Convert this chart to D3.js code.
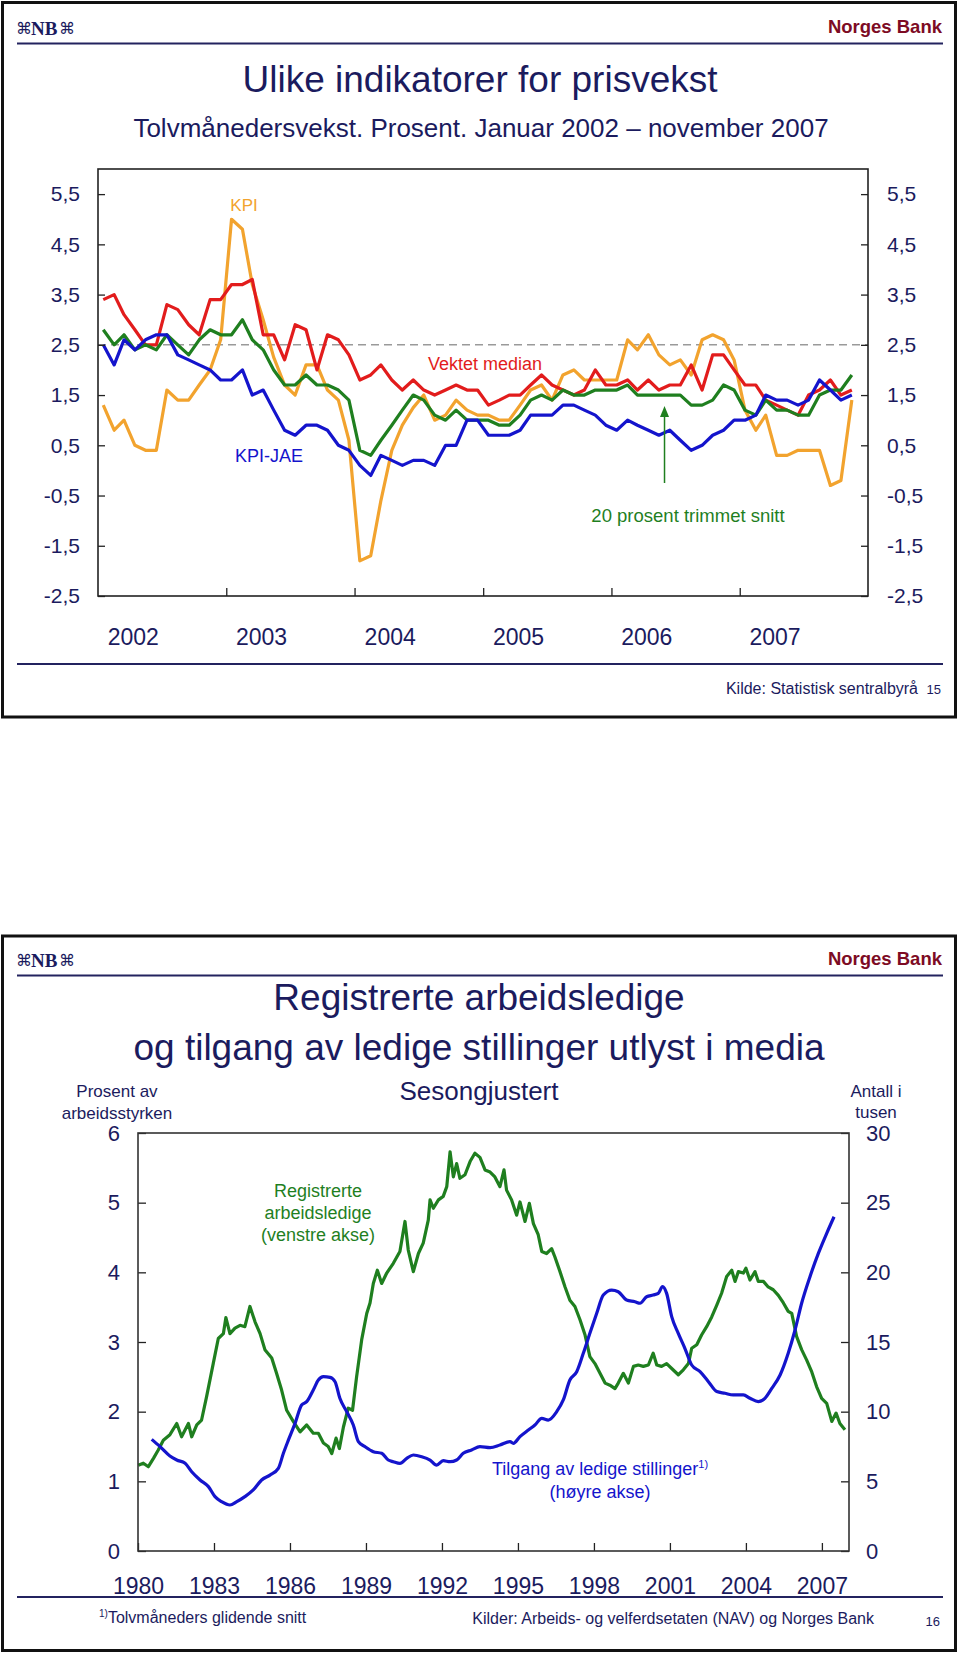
<!DOCTYPE html>
<html><head><meta charset="utf-8">
<script src="https://cdn.jsdelivr.net/npm/d3@7"></script>
<style>
body{margin:0;background:#fff}
svg{display:block}
text{font-family:"Liberation Sans",Arial,Helvetica,sans-serif}
</style>
</head><body>
<svg id="c" width="960" height="1654"></svg>
<script>
// ---------- Panel 1 data (monthly, Jan 2002 - Nov 2007) ----------
const months = d3.timeMonth.range(new Date(2002,0,1), new Date(2007,11,1));
const kpi = [1.3,0.8,1.0,0.5,0.4,0.4, 1.6,1.4,1.4,1.7,2.0,2.6, 5.0,4.8,3.7,3.0,2.25,1.7,
  1.5,2.1,2.1,1.6,1.4,0.6, -1.8,-1.7,-0.6,0.4,0.9,1.25, 1.5,1.0,1.1,1.4,1.2,1.1,
  1.1,1.0,1.0,1.3,1.6,1.7, 1.4,1.9,2.0,1.8,1.8,1.8, 1.8,2.6,2.4,2.7,2.3,2.1,
  2.2,1.9,2.6,2.7,2.6,2.2, 1.2,0.8,1.1,0.3,0.3,0.4, 0.4,0.4,-0.3,-0.2,1.4];
const vektetMedian = [3.4,3.5,3.1,2.8,2.5,2.5, 3.3,3.2,2.9,2.7,3.4,3.4, 3.7,3.7,3.8,2.7,2.7,2.2,
  2.9,2.8,2.0,2.7,2.6,2.3, 1.8,1.9,2.1,1.8,1.6,1.8, 1.6,1.5,1.6,1.7,1.6,1.6,
  1.3,1.4,1.5,1.5,1.7,1.9, 1.7,1.6,1.5,1.6,2.0,1.7, 1.7,1.8,1.6,1.8,1.6,1.7,
  1.7,2.1,1.6,2.3,2.3,2.0, 1.7,1.7,1.4,1.3,1.2,1.1, 1.5,1.6,1.8,1.5,1.6];
const trimmetSnitt = [2.8,2.5,2.7,2.4,2.5,2.4, 2.7,2.5,2.3,2.6,2.8,2.7, 2.7,3.0,2.6,2.4,2.0,1.7,
  1.7,1.9,1.7,1.7,1.6,1.4, 0.4,0.3,0.6,0.9,1.2,1.5, 1.4,1.1,1.0,1.2,1.0,1.0,
  1.0,0.9,0.9,1.1,1.4,1.5, 1.4,1.6,1.5,1.5,1.6,1.6, 1.6,1.7,1.5,1.5,1.5,1.5,
  1.5,1.3,1.3,1.4,1.7,1.6, 1.2,1.1,1.4,1.2,1.2,1.1, 1.1,1.5,1.6,1.6,1.9];
const kpiJae = [2.5,2.1,2.6,2.4,2.6,2.7, 2.7,2.3,2.2,2.1,2.0,1.8, 1.8,2.0,1.5,1.6,1.2,0.8,
  0.7,0.9,0.9,0.8,0.5,0.4, 0.1,-0.1,0.3,0.2,0.1,0.2, 0.2,0.1,0.5,0.5,1.0,1.0,
  0.7,0.7,0.7,0.8,1.1,1.1, 1.1,1.3,1.3,1.2,1.1,0.9, 0.8,1.0,0.9,0.8,0.7,0.8,
  0.6,0.4,0.5,0.7,0.8,1.0, 1.0,1.1,1.5,1.4,1.4,1.3, 1.4,1.8,1.6,1.4,1.5];
const p1YTicks = [-2.5,-1.5,-0.5,0.5,1.5,2.5,3.5,4.5,5.5];
const p1Years = [2002,2003,2004,2005,2006,2007];
const inflationTarget = 2.5;

// ---------- Panel 2 data ----------
const unempYears = [1980.01,1980.21,1980.41,1980.61,1980.80,1981.00,1981.26,1981.53,1981.72,1981.99,
 1982.12,1982.32,1982.51,1982.71,1982.97,1983.17,1983.37,1983.47,1983.63,1983.83,1984.03,1984.22,
 1984.42,1984.62,1984.82,1985.01,1985.28,1985.47,1985.67,1985.87,1986.13,1986.40,1986.66,1986.92,
 1987.12,1987.32,1987.51,1987.65,1987.82,1987.95,1988.11,1988.30,1988.47,1988.63,1988.83,1989.03,
 1989.16,1989.29,1989.45,1989.62,1989.82,1990.08,1990.34,1990.54,1990.67,1990.87,1991.07,1991.26,
 1991.46,1991.53,1991.66,1991.86,1992.05,1992.19,1992.32,1992.45,1992.58,1992.71,1992.91,1993.11,
 1993.30,1993.50,1993.70,1993.90,1994.09,1994.29,1994.45,1994.55,1994.75,1994.95,1995.08,1995.28,
 1995.45,1995.61,1995.80,1995.94,1996.13,1996.33,1996.46,1996.66,1996.86,1997.05,1997.25,1997.45,
 1997.65,1997.84,1998.04,1998.24,1998.44,1998.63,1998.83,1998.96,1999.16,1999.36,1999.56,1999.75,
 1999.95,2000.15,2000.34,2000.48,2000.67,2000.87,2001.07,2001.33,2001.53,2001.73,2001.86,2002.06,
 2002.25,2002.45,2002.65,2002.85,2003.04,2003.24,2003.44,2003.57,2003.70,2003.90,2004.00,2004.16,
 2004.36,2004.49,2004.69,2004.88,2005.08,2005.28,2005.48,2005.67,2005.81,2006.00,2006.20,2006.40,
 2006.60,2006.79,2006.99,2007.19,2007.39,2007.56,2007.71,2007.91];
const unempRate = [1.23,1.26,1.21,1.33,1.45,1.59,1.67,1.83,1.64,1.83,
 1.64,1.81,1.88,2.22,2.69,3.05,3.12,3.35,3.12,3.20,3.24,3.22,
 3.51,3.29,3.12,2.89,2.77,2.55,2.31,2.02,1.86,1.71,1.81,1.69,
 1.69,1.55,1.50,1.40,1.62,1.47,1.78,2.05,2.02,2.50,3.03,3.41,
 3.56,3.84,4.03,3.84,3.99,4.13,4.30,4.73,4.32,4.01,4.27,4.42,
 4.75,5.04,4.92,5.04,5.09,5.23,5.73,5.37,5.56,5.35,5.40,5.59,
 5.71,5.65,5.47,5.44,5.37,5.23,5.47,5.18,5.04,4.82,5.01,4.73,
 4.99,4.70,4.54,4.30,4.27,4.34,4.22,4.01,3.79,3.60,3.51,3.32,
 3.10,2.79,2.69,2.55,2.41,2.38,2.33,2.41,2.55,2.41,2.65,2.67,
 2.65,2.67,2.84,2.67,2.65,2.69,2.62,2.53,2.60,2.69,2.91,2.96,
 3.10,3.22,3.36,3.53,3.70,3.94,4.03,3.87,4.01,3.99,4.06,3.89,
 4.01,3.87,3.87,3.79,3.75,3.67,3.56,3.44,3.41,3.08,2.89,2.74,
 2.57,2.36,2.19,2.12,1.86,1.98,1.83,1.74];
const vacYears = [1980.54,1980.87,1981.26,1981.53,1981.86,1982.12,1982.45,1982.78,1983.04,1983.30,
 1983.63,1983.90,1984.22,1984.55,1984.88,1985.21,1985.54,1985.74,1985.94,1986.20,1986.46,1986.66,
 1986.92,1987.12,1987.32,1987.58,1987.78,1987.97,1988.24,1988.50,1988.70,1988.96,1989.29,1989.62,
 1989.88,1990.08,1990.34,1990.61,1990.87,1991.20,1991.53,1991.79,1992.05,1992.32,1992.58,1992.84,
 1993.17,1993.50,1993.90,1994.29,1994.69,1994.82,1995.08,1995.41,1995.67,1995.94,1996.20,1996.53,
 1996.79,1997.05,1997.32,1997.58,1997.84,1998.11,1998.37,1998.70,1998.96,1999.29,1999.62,1999.82,
 2000.08,2000.34,2000.54,2000.71,2000.87,2001.07,2001.33,2001.59,2001.86,2002.19,2002.52,2002.85,
 2003.17,2003.50,2003.90,2004.16,2004.49,2004.75,2005.02,2005.35,2005.67,2005.94,2006.20,2006.53,
 2006.86,2007.19,2007.48];
const vacCount = [8.01,7.49,6.82,6.53,6.29,5.69,5.10,4.62,3.90,3.54,
 3.30,3.54,3.90,4.38,5.10,5.45,5.93,7.01,7.97,9.16,10.48,10.72,
 11.56,12.27,12.51,12.46,12.15,10.96,10.00,9.04,7.85,7.49,7.13,7.01,
 6.53,6.41,6.29,6.65,6.89,6.77,6.53,6.17,6.48,6.41,6.53,7.01,
 7.25,7.49,7.42,7.61,7.85,7.73,8.21,8.68,9.04,9.52,9.40,10.00,
 10.84,12.27,12.87,14.19,15.62,17.06,18.37,18.73,18.61,18.01,17.89,17.78,
 18.25,18.37,18.49,18.97,18.49,16.82,15.62,14.55,13.35,12.87,12.15,11.44,
 11.32,11.20,11.20,10.96,10.72,10.96,11.67,12.63,14.19,15.86,17.78,19.69,
 21.36,22.80,23.99];
const p2LeftTicks = [0,1,2,3,4,5,6];
const p2RightTicks = [0,5,10,15,20,25,30];
const p2Years = [1980,1983,1986,1989,1992,1995,1998,2001,2004,2007];

// ---------- styles ----------
const NAVY = "#1b1b5e", RED_BRAND = "#7d0b24";
const C_KPI = "#f2a32e", C_MED = "#e21c1c", C_TRIM = "#1f7f1f", C_JAE = "#1414cc";
const C_UNEMP = "#1f7f1f", C_VAC = "#1414cc";

const svg = d3.select("#c");

function frame(top, bottom){
  svg.append("rect").attr("x",2.5).attr("y",top).attr("width",953).attr("height",bottom-top)
    .attr("fill","#fff").attr("stroke","#111").attr("stroke-width",3);
}
function header(off){
  const g = svg.append("g").attr("transform",`translate(0,${off})`);
  g.append("text").attr("x",16).attr("y",34).attr("fill",NAVY)
    .style("font-family","DejaVu Sans").style("font-size","16px").text("⌘");
  g.append("text").attr("x",31).attr("y",35).attr("fill",NAVY)
    .style("font-family","Liberation Serif").style("font-weight","bold").style("font-size","19px").text("NB");
  g.append("text").attr("x",59).attr("y",34).attr("fill",NAVY)
    .style("font-family","DejaVu Sans").style("font-size","16px").text("⌘");
  g.append("text").attr("x",942).attr("y",33).attr("text-anchor","end").attr("fill",RED_BRAND)
    .style("font-weight","bold").style("font-size","18.5px").text("Norges Bank");
  g.append("line").attr("x1",17).attr("x2",943).attr("y1",43.5).attr("y2",43.5)
    .attr("stroke","#23235f").attr("stroke-width",2);
}
function txt(x,y,s,size,color,anchor){
  return svg.append("text").attr("x",x).attr("y",y).attr("text-anchor",anchor||"middle")
    .attr("fill",color||NAVY).style("font-size",size+"px").text(s);
}
const comma = d => d3.format(".1f")(d).replace(".",",").replace("\u2212","-");

// ================= PANEL 1 =================
frame(2.5, 717);
header(0);
txt(480,92,"Ulike indikatorer for prisvekst",37);
txt(481,137,"Tolvmånedersvekst. Prosent. Januar 2002 – november 2007",26);

const L1=98, R1=868, T1=169, B1=596;
const x1 = d3.scaleTime().domain([new Date(2002,0,1), new Date(2008,0,1)]).range([L1,R1]);
const y1 = d3.scaleLinear().domain([-2.5,6.0]).range([B1,T1]);
const mid = d => new Date(d.getFullYear(), d.getMonth(), 16);

const p1 = svg.append("g");
p1.append("line").attr("x1",L1).attr("x2",R1).attr("y1",y1(inflationTarget)).attr("y2",y1(inflationTarget))
  .attr("stroke","#9a9a9a").attr("stroke-width",1.5).attr("stroke-dasharray","8,5");

const line1 = vals => d3.line().x((d,i)=>x1(mid(months[i]))).y(d=>y1(d))(vals);
[[kpi,C_KPI],[vektetMedian,C_MED],[trimmetSnitt,C_TRIM],[kpiJae,C_JAE]].forEach(([v,c])=>{
  p1.append("path").attr("d",line1(v)).attr("fill","none").attr("stroke",c)
    .attr("stroke-width",3.2).attr("stroke-linejoin","round");
});

const axL1 = d3.axisLeft(y1).tickValues(p1YTicks).tickFormat(comma).tickSize(-7).tickSizeOuter(0).tickPadding(18);
const axR1 = d3.axisRight(y1).tickValues(p1YTicks).tickFormat(comma).tickSize(-7).tickSizeOuter(0).tickPadding(19);
const axB1 = d3.axisBottom(x1).tickValues(p1Years.slice(1).map(y=>new Date(y,0,1))).tickFormat("").tickSize(-8).tickSizeOuter(0);
const axB1lab = d3.axisBottom(x1).tickValues(p1Years.map(y=>new Date(y,3,10))).tickFormat(d3.timeFormat("%Y")).tickSize(0).tickPadding(33);
function styleAxis(g,size){
  g.select(".domain").remove();
  g.selectAll(".tick line").attr("stroke","#222").attr("stroke-width",1.3);
  g.selectAll("text").attr("fill",NAVY).style("font-size",size+"px").style("font-family","Liberation Sans, Arial, sans-serif");
}
styleAxis(svg.append("g").attr("transform",`translate(${L1},0)`).call(axL1),21);
styleAxis(svg.append("g").attr("transform",`translate(${R1},0)`).call(axR1),21);
styleAxis(svg.append("g").attr("transform",`translate(0,${B1})`).call(axB1),23);
styleAxis(svg.append("g").attr("transform",`translate(0,${B1})`).call(axB1lab),23);
svg.append("rect").attr("x",L1).attr("y",T1).attr("width",R1-L1).attr("height",B1-T1)
  .attr("fill","none").attr("stroke","#222").attr("stroke-width",1.6);

txt(244,211,"KPI",17,C_KPI);
txt(428,370,"Vektet median",18,C_MED,"start");
txt(269,462,"KPI-JAE",18,C_JAE);
txt(688,522,"20 prosent trimmet snitt",18.5,C_TRIM);
const arrowX = x1(new Date(2006,5,1));
svg.append("line").attr("x1",arrowX).attr("x2",arrowX).attr("y1",483).attr("y2",414)
  .attr("stroke",C_TRIM).attr("stroke-width",1.5);
svg.append("path").attr("d",`M${arrowX-4.5},${417} L${arrowX},${406} L${arrowX+4.5},${417} Z`).attr("fill",C_TRIM);

svg.append("line").attr("x1",17).attr("x2",943).attr("y1",664).attr("y2",664).attr("stroke","#23235f").attr("stroke-width",2);
txt(918,694,"Kilde: Statistisk sentralbyrå",16,NAVY,"end");
txt(941,694,"15",13,NAVY,"end");

// ================= PANEL 2 =================
frame(936, 1650.5);
header(932);
txt(479,1010,"Registrerte arbeidsledige",37);
txt(479,1060,"og tilgang av ledige stillinger utlyst i media",37);
txt(479,1100,"Sesongjustert",26);
txt(117,1097,"Prosent av",17);
txt(117,1119,"arbeidsstyrken",17);
txt(876,1097,"Antall i",17);
txt(876,1118,"tusen",17);

const L2=138, R2=849, T2=1133, B2=1551;
const x2 = d3.scaleLinear().domain([1980,2008.07]).range([L2,R2]);
const yL = d3.scaleLinear().domain([0,6]).range([B2,T2]);
const yR = d3.scaleLinear().domain([0,30]).range([B2,T2]);

svg.append("path").attr("d", d3.line().x((d,i)=>x2(unempYears[i])).y(d=>yL(d))(unempRate))
  .attr("fill","none").attr("stroke",C_UNEMP).attr("stroke-width",3.2).attr("stroke-linejoin","round");
svg.append("path").attr("d", d3.line().x((d,i)=>x2(vacYears[i])).y(d=>yR(d)).curve(d3.curveMonotoneX)(vacCount))
  .attr("fill","none").attr("stroke",C_VAC).attr("stroke-width",3.2).attr("stroke-linejoin","round");

const axL2 = d3.axisLeft(yL).tickValues(p2LeftTicks).tickFormat(d3.format("d")).tickSize(-8).tickSizeOuter(0).tickPadding(18);
const axR2 = d3.axisRight(yR).tickValues(p2RightTicks).tickFormat(d3.format("d")).tickSize(-8).tickSizeOuter(0).tickPadding(17);
const axB2 = d3.axisBottom(x2).tickValues(p2Years).tickFormat(d3.format("d")).tickSize(-8).tickSizeOuter(0).tickPadding(27);
styleAxis(svg.append("g").attr("transform",`translate(${L2},0)`).call(axL2),22);
styleAxis(svg.append("g").attr("transform",`translate(${R2},0)`).call(axR2),22);
styleAxis(svg.append("g").attr("transform",`translate(0,${B2})`).call(axB2),23);
svg.append("rect").attr("x",L2).attr("y",T2).attr("width",R2-L2).attr("height",B2-T2)
  .attr("fill","none").attr("stroke","#333").attr("stroke-width",1.6);

txt(318,1197,"Registrerte",18,C_UNEMP);
txt(318,1219,"arbeidsledige",18,C_UNEMP);
txt(318,1241,"(venstre akse)",18,C_UNEMP);
const vl = txt(600,1475,"",18,C_VAC);
vl.append("tspan").text("Tilgang av ledige stillinger");
vl.append("tspan").attr("dy",-7).style("font-size","11px").text("1)");
txt(600,1498,"(høyre akse)",18,C_VAC);

svg.append("line").attr("x1",17).attr("x2",943).attr("y1",1597).attr("y2",1597).attr("stroke","#23235f").attr("stroke-width",2);
const fn = txt(99,1623,"",16,NAVY,"start");
fn.append("tspan").attr("dy",-6).style("font-size","10px").text("1)");
fn.append("tspan").attr("dy",6).text("Tolvmåneders glidende snitt");
txt(874,1624,"Kilder: Arbeids- og velferdsetaten (NAV) og Norges Bank",16,NAVY,"end");
txt(940,1626,"16",13,NAVY,"end");
</script>
</body></html>
